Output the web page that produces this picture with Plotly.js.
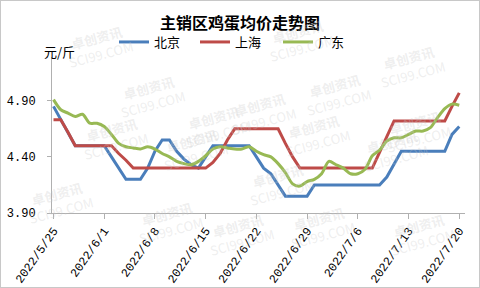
<!DOCTYPE html>
<html><head><meta charset="utf-8">
<script src="https://cdn.plot.ly/plotly-3.0.1.min.js"></script>
<style>html,body{margin:0;padding:0;background:#fff}#wrap{position:relative;width:480px;height:288px}#chart{width:480px;height:288px}#frame{position:absolute;left:0;top:0;width:478px;height:286px;border:1px solid #c8c8c8;pointer-events:none}</style>
</head><body><div id="wrap"><div id="chart"></div><div id="frame"></div></div>
<script>
const nDays = 57;
const seriesNames = ['北京', '上海', '广东'];
const beijing = [4.85,4.73,4.61,4.50,4.50,4.50,4.50,4.50,4.40,4.30,4.20,4.20,4.20,4.30,4.45,4.55,4.55,4.45,4.38,4.33,4.30,4.40,4.50,4.50,4.50,4.50,4.50,4.50,4.40,4.30,4.25,4.15,4.05,4.05,4.05,4.05,4.15,4.15,4.15,4.15,4.15,4.15,4.15,4.15,4.15,4.15,4.22,4.33,4.45,4.45,4.45,4.45,4.45,4.45,4.45,4.60,4.67];
const shanghai = [4.73,4.73,4.62,4.50,4.50,4.50,4.50,4.50,4.50,4.43,4.37,4.30,4.30,4.30,4.30,4.30,4.30,4.30,4.30,4.30,4.30,4.30,4.35,4.43,4.55,4.65,4.65,4.65,4.65,4.65,4.65,4.65,4.52,4.40,4.30,4.30,4.30,4.30,4.30,4.30,4.30,4.30,4.30,4.30,4.30,4.44,4.58,4.72,4.72,4.72,4.72,4.72,4.72,4.72,4.72,4.85,4.97];
const guangdong = [4.91,4.82,4.79,4.76,4.78,4.70,4.70,4.67,4.60,4.52,4.49,4.48,4.47,4.49,4.47,4.43,4.40,4.36,4.34,4.33,4.36,4.41,4.47,4.49,4.48,4.47,4.47,4.49,4.45,4.42,4.40,4.34,4.26,4.16,4.14,4.18,4.20,4.25,4.36,4.33,4.30,4.25,4.25,4.29,4.41,4.46,4.54,4.57,4.57,4.60,4.63,4.63,4.66,4.75,4.83,4.87,4.86];
const tickDates = ['2022-05-25','2022-06-01','2022-06-08','2022-06-15','2022-06-22','2022-06-29','2022-07-06','2022-07-13','2022-07-20'];
const tickLabels = ['2022/5/25','2022/6/1','2022/6/8','2022/6/15','2022/6/22','2022/6/29','2022/7/6','2022/7/13','2022/7/20'];
const yTicks = [3.90, 4.40, 4.90];

const dates = [];
const t0 = Date.UTC(2022, 4, 25);
for (let i = 0; i < nDays; i++) {
  dates.push(new Date(t0 + i * 86400000).toISOString().slice(0, 10));
}
const colors = ['#4A7EBB', '#BE4B48', '#98B954'];
const values = [beijing, shanghai, guangdong];
const legendIds = ['legend', 'legend2', 'legend3'];
const traces = values.map((v, i) => ({
  x: dates, y: v, name: seriesNames[i], type: 'scatter', mode: 'lines', legend: legendIds[i],
  line: {color: colors[i], width: 3, shape: i === 2 ? 'spline' : 'linear', smoothing: 0.8}
}));

const L = 52, R = 15, T = 57, B = 75, PW = 480 - L - R, PH = 288 - T - B;
const wm = [[60,18],[300,12],[450,38],[112,68],[216,98],[376,66],[262,85],[75,138],[316,135],[456,103],[155,177],[433,178],[280,212],[20,230],[130,250],[240,262],[360,255],[460,262]];
const annotations = wm.map(p => ({
  x: (p[0] - L)/PW, y: 1 - (p[1] - T)/PH, xref: 'paper', yref: 'paper', showarrow: false,
  text: '<b>卓创资讯</b><br>SCI99.COM', textangle: -15,
  font: {family: 'Noto Sans CJK SC', size: 13, color: 'rgba(200,200,200,0.3)'}
}));
annotations.push({
  x: (42 - L)/PW, y: 1 + (T - 40)/PH, xref: 'paper', yref: 'paper', showarrow: false,
  text: '元/斤', font: {family: 'Noto Sans CJK SC', size: 13, color: '#000'}
});

function leg(px) {
  return {orientation: 'h', x: (px - L)/PW, xanchor: 'left', y: 1 + (T - 42)/PH, yanchor: 'middle',
          font: {family: 'Noto Sans CJK SC', size: 13, color: '#000'}, bgcolor: 'rgba(0,0,0,0)'};
}

const layout = {
  width: 480, height: 288,
  margin: {l: L, r: R, t: T, b: B},
  paper_bgcolor: '#fff', plot_bgcolor: '#fff',
  title: {text: '<b>主销区鸡蛋均价走势图</b>', x: 0.5, xref: 'container', xanchor: 'center',
          y: 1 - 23/288, yref: 'container', yanchor: 'middle',
          font: {family: 'Noto Sans CJK SC', size: 16, color: '#000'}},
  showlegend: true,
  legend: leg(114), legend2: leg(195), legend3: leg(278),
  xaxis: {type: 'date', range: ['2022-05-24 19:00', '2022-07-20 19:00'],
          tickmode: 'array', tickvals: tickDates, ticktext: tickLabels, tickangle: -55,
          showgrid: false, zeroline: false, showline: true, linecolor: '#b0b0b0', linewidth: 1,
          ticks: 'outside', ticklen: 5, tickcolor: '#b0b0b0',
          tickfont: {family: 'Liberation Mono', size: 12, color: '#000'}},
  yaxis: {range: [3.9, 5.29], tickmode: 'array', tickvals: yTicks, ticktext: yTicks.map(v => v.toFixed(2)),
          showgrid: false, zeroline: false, showline: true, linecolor: '#b0b0b0', linewidth: 1,
          ticks: 'outside', ticklen: 4, tickcolor: '#b0b0b0', ticklabelstandoff: 9,
          tickfont: {family: 'Liberation Mono', size: 12, color: '#000'}},
  annotations: annotations
};
Plotly.newPlot('chart', traces, layout, {staticPlot: true});
</script></body></html>
